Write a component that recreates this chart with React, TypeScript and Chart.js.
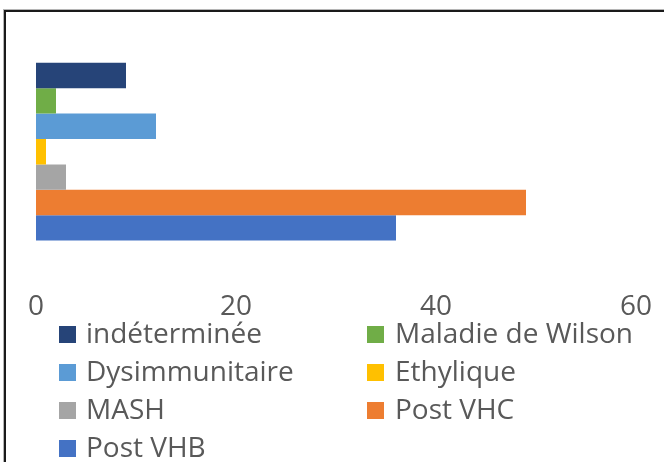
import React, { useEffect, useRef } from "react";
import { Chart, registerables } from "chart.js";

Chart.register(...registerables);

const categories = ["Étiologie"];
const seriesNames = [
  "indéterminée",
  "Maladie de Wilson",
  "Dysimmunitaire",
  "Ethylique",
  "MASH",
  "Post VHC",
  "Post VHB",
];
const seriesValues = [9, 2, 12, 1, 3, 49, 36];
const seriesColors = [
  "#264478",
  "#70AD47",
  "#5B9BD5",
  "#FFC000",
  "#A5A5A5",
  "#ED7D31",
  "#4472C4",
];
const axisMin = 0;
const axisMax = 60;
const axisStep = 20;

const FONT = "'Open Sans', 'Liberation Sans', sans-serif";
const TEXT_COLOR = "#595959";

const gridLegend = {
  id: "gridLegend",
  afterDraw(chart: any) {
    const ctx = chart.ctx;
    const ds = chart.data.datasets;
    const colX = [59, 367];
    const textX = [86, 395];
    const rowBase = [343, 381, 419, 457];
    const box = 17;
    ctx.save();
    ctx.font = `28px ${FONT}`;
    ctx.textBaseline = "alphabetic";
    ctx.textAlign = "left";
    ds.forEach((d: any, i: number) => {
      const c = i % 2;
      const r = Math.floor(i / 2);
      const b = rowBase[r];
      ctx.fillStyle = d.backgroundColor;
      ctx.fillRect(colX[c], b - box, box, box);
      ctx.fillStyle = TEXT_COLOR;
      ctx.fillText(d.label, textX[c], b);
    });
    ctx.restore();
  },
};

export default function App() {
  const ref = useRef<HTMLCanvasElement>(null);
  useEffect(() => {
    if (!ref.current) return;
    const chart = new Chart(ref.current, {
      type: "bar",
      data: {
        labels: categories,
        datasets: seriesNames.map((name, i) => ({
          label: name,
          data: [seriesValues[i]],
          backgroundColor: seriesColors[i],
          borderWidth: 0,
          barPercentage: 1,
          categoryPercentage: 0.675,
        })),
      },
      options: {
        indexAxis: "y",
        animation: false,
        responsive: false,
        devicePixelRatio: 1,
        layout: { padding: { left: 36, right: 28, top: 20, bottom: 131 } },
        plugins: {
          legend: { display: false },
          tooltip: { enabled: false },
        },
        scales: {
          x: {
            min: axisMin,
            max: axisMax,
            grid: { display: false, drawTicks: false },
            border: { display: false },
            ticks: {
              stepSize: axisStep,
              padding: 7,
              color: TEXT_COLOR,
              font: { family: FONT, size: 28 },
            },
          },
          y: { display: false },
        },
      },
      plugins: [gridLegend],
    });
    return () => chart.destroy();
  }, []);
  return (
    <div
      style={{
        position: "fixed",
        left: 0,
        top: 0,
        width: 664,
        height: 462,
        overflow: "hidden",
        background: "#fff",
      }}
    >
      <canvas
        ref={ref}
        width={664}
        height={462}
        style={{ position: "absolute", left: 0, top: 0, width: 664, height: 462 }}
      />
      <div
        style={{
          position: "absolute",
          left: 4,
          top: 10,
          width: 720,
          height: 520,
          border: "2px solid #1a1a1a",
          boxShadow: "0 0 0 1px #b5b5b5",
          pointerEvents: "none",
        }}
      />
    </div>
  );
}
